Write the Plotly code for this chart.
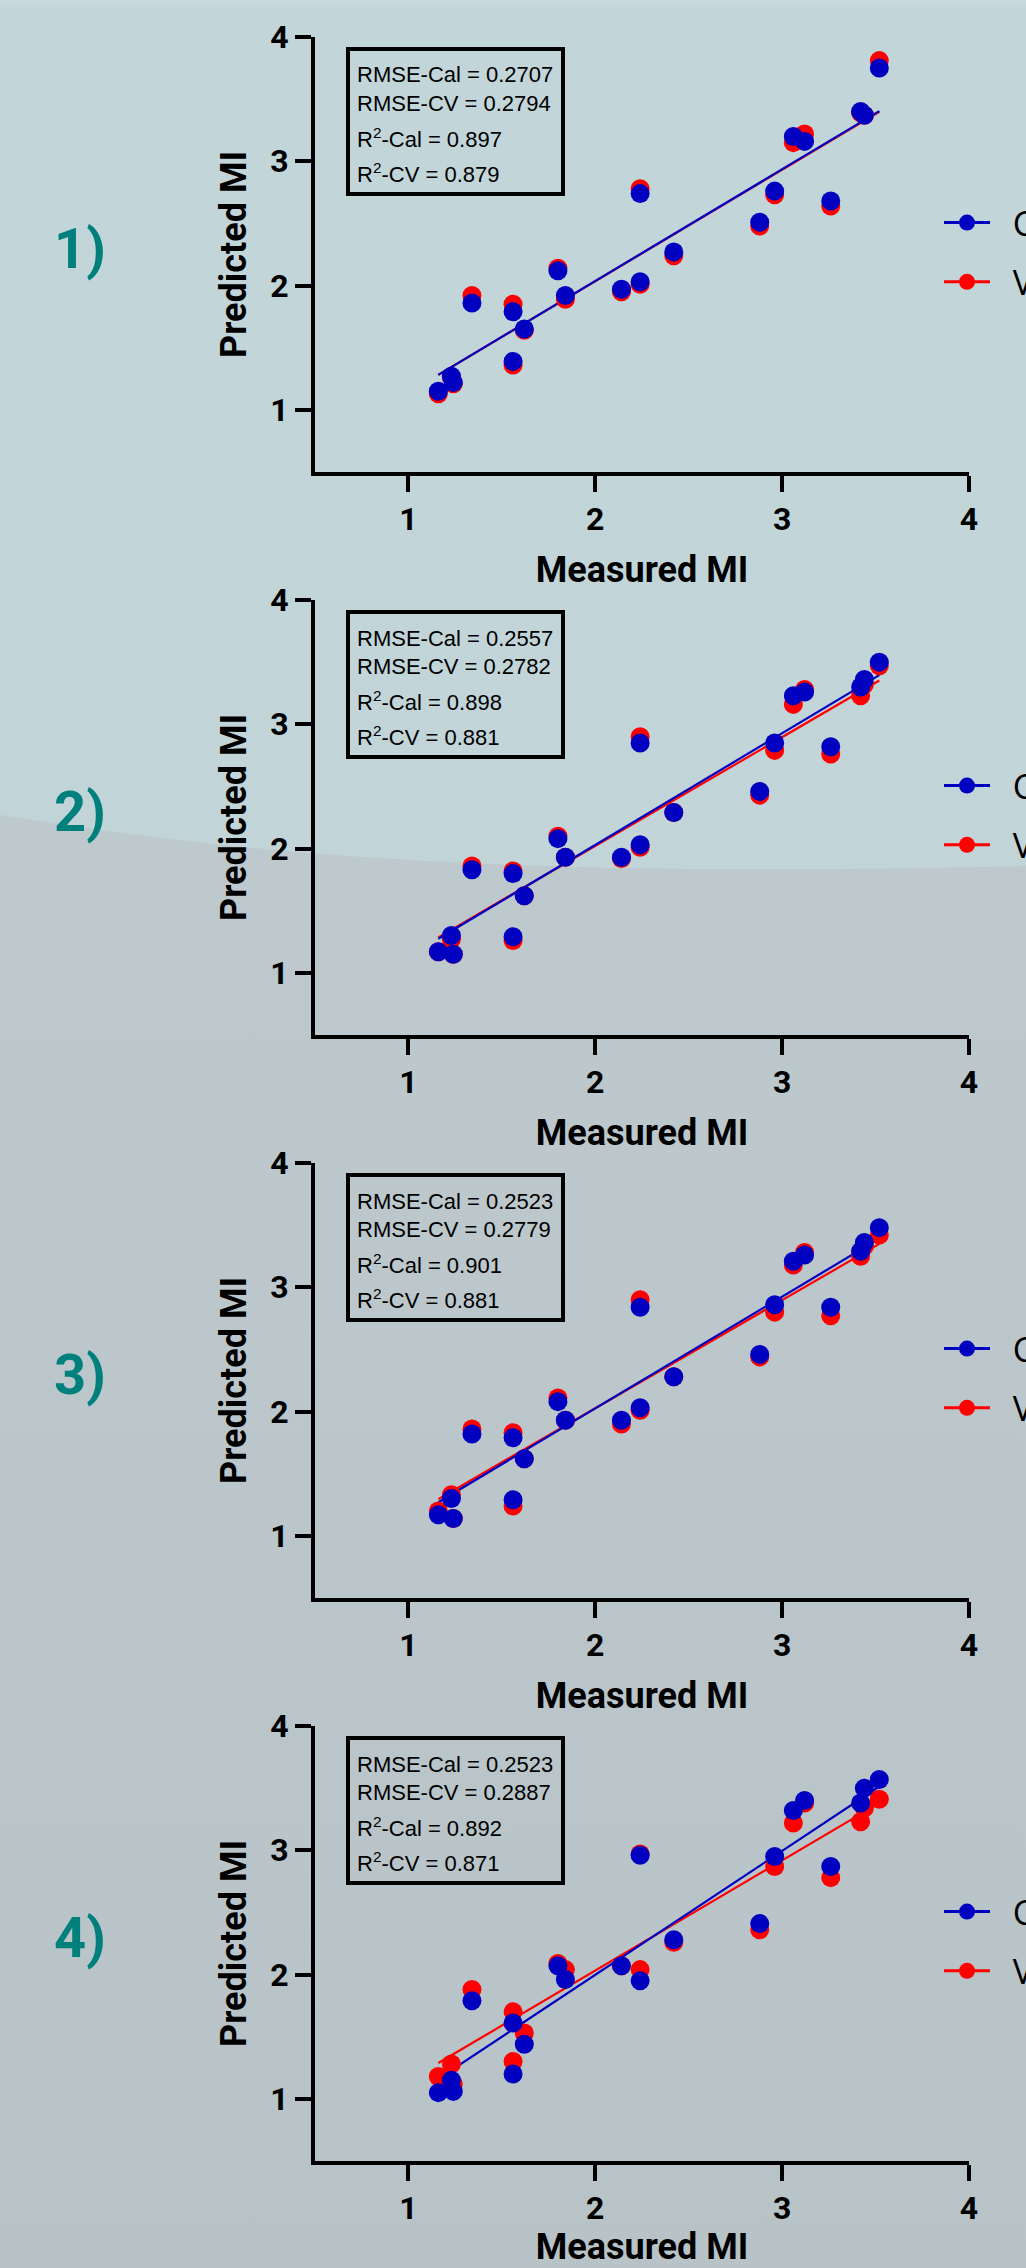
import base64
import numpy as np
import plotly.graph_objects as go

# ---------------- data ----------------
measured = [1.16, 1.23, 1.24, 1.34, 1.56, 1.56, 1.62, 1.80, 1.84, 2.14, 2.24,
            2.24, 2.42, 2.88, 2.96, 3.06, 3.12, 3.26, 3.42, 3.44, 3.52]

cal_1 = [1.15, 1.27, 1.22, 1.86, 1.79, 1.39, 1.65, 2.12, 1.92, 1.97, 2.74,
         2.03, 2.27, 2.51, 2.76, 3.20, 3.16, 2.68, 3.40, 3.37, 3.75]
val_1 = [1.13, 1.26, 1.21, 1.92, 1.85, 1.36, 1.64, 2.14, 1.89, 1.95, 2.78,
         2.01, 2.24, 2.48, 2.73, 3.15, 3.22, 2.64, 3.39, 3.37, 3.81]

cal_2 = [1.17, 1.30, 1.15, 1.83, 1.80, 1.29, 1.62, 2.08, 1.93, 1.93, 2.85,
         2.03, 2.29, 2.46, 2.85, 3.23, 3.26, 2.82, 3.30, 3.36, 3.50]
val_2 = [1.17, 1.27, 1.15, 1.86, 1.82, 1.26, 1.62, 2.10, 1.93, 1.92, 2.90,
         2.01, 2.29, 2.43, 2.79, 3.16, 3.28, 2.76, 3.23, 3.32, 3.47]

cal_3 = [1.17, 1.30, 1.14, 1.82, 1.79, 1.29, 1.62, 2.08, 1.93, 1.93, 2.84,
         2.03, 2.28, 2.46, 2.86, 3.21, 3.26, 2.84, 3.29, 3.36, 3.48]
val_3 = [1.20, 1.33, 1.14, 1.86, 1.83, 1.24, 1.62, 2.11, 1.93, 1.90, 2.90,
         2.01, 2.28, 2.44, 2.80, 3.18, 3.28, 2.77, 3.25, 3.33, 3.42]

cal_4 = [1.05, 1.15, 1.06, 1.79, 1.61, 1.20, 1.44, 2.07, 1.96, 2.07, 2.96,
         1.95, 2.28, 2.41, 2.95, 3.32, 3.40, 2.87, 3.38, 3.50, 3.57]
val_4 = [1.18, 1.28, 1.12, 1.88, 1.70, 1.30, 1.53, 2.09, 2.04, 2.07, 2.97,
         2.04, 2.26, 2.36, 2.87, 3.22, 3.38, 2.78, 3.23, 3.34, 3.41]

panel_labels = ["1)", "2)", "3)", "4)"]
rmse_cal = ["0.2707", "0.2557", "0.2523", "0.2523"]
rmse_cv = ["0.2794", "0.2782", "0.2779", "0.2887"]
r2_cal = ["0.897", "0.898", "0.901", "0.892"]
r2_cv = ["0.879", "0.881", "0.881", "0.871"]

tick_values = [1, 2, 3, 4]
axis_range = [0.5, 4]
series_names = ["Calibration", "Validation"]

cal_sets = [cal_1, cal_2, cal_3, cal_4]
val_sets = [val_1, val_2, val_3, val_4]

# ---------------- layout geometry ----------------
W, H = 1300, 2268          # figure is wider than the 1026 window: legend text is cut like the reference
VIEW_W = 1026
PLOT_L, PLOT_R = 315, 969
TOP0, STEP, PH = 37, 563, 435


def fx(px):
    return px / W


def fy(py):
    return 1 - py / H


BLUE = "#0000C0"
RED = "#FF0000"
COND = "Roboto, Liberation Sans, sans-serif"
REGULAR = "Liberation Sans, Arial, sans-serif"
LEGEND_FONT = "Open Sans, Noto Sans, sans-serif"

fig = go.Figure()

for i in range(4):
    n = "" if i == 0 else str(i + 1)
    xa, ya = "x" + n, "y" + n
    leg = "legend" + n
    xs = np.array(measured)
    cal = np.array(cal_sets[i])
    val = np.array(val_sets[i])
    groups = [(val, RED, series_names[1], 2), (cal, BLUE, series_names[0], 1)]

    # fitted lines
    for vals, color, name, rank in groups:
        slope, icpt = np.polyfit(xs, vals, 1)
        xl = np.array([xs.min(), xs.max()])
        fig.add_trace(go.Scatter(
            x=xl, y=slope * xl + icpt, mode="lines",
            line=dict(color=color, width=2.2),
            xaxis=xa, yaxis=ya, showlegend=False, hoverinfo="skip"))
    # points
    for vals, color, name, rank in groups:
        fig.add_trace(go.Scatter(
            x=xs, y=vals, mode="markers", name=name,
            marker=dict(color=color, size=19, line=dict(width=0)),
            xaxis=xa, yaxis=ya, showlegend=False))
    # legend entries (line + marker symbol)
    for vals, color, name, rank in groups:
        fig.add_trace(go.Scatter(
            x=[None], y=[None], mode="lines+markers",
            name="\u00a0\u00a0" + name,
            marker=dict(color=color, size=19),
            line=dict(color=color, width=3),
            xaxis=xa, yaxis=ya, legend=leg,
            legendgroup=f"{name}{i}", legendrank=rank, showlegend=True))

    top = TOP0 + i * STEP
    bot = top + PH

    common_axis = dict(
        range=axis_range, tickvals=tick_values, ticks="outside", ticklen=16,
        tickwidth=4, tickcolor="black", showline=True, linewidth=4,
        linecolor="black", showgrid=False, zeroline=False, automargin=False,
        tickfont=dict(family=COND, size=32, color="black", weight="bold"),
    )
    fig.layout["xaxis" + n] = dict(
        common_axis, domain=[fx(PLOT_L), fx(PLOT_R)], anchor=ya,
        title=dict(text="Measured MI", standoff=20,
                   font=dict(family=COND, size=36, color="black", weight="bold")))
    fig.layout["yaxis" + n] = dict(
        common_axis, domain=[fy(bot), fy(top)], anchor=xa,
        title=dict(text="Predicted MI", standoff=14,
                   font=dict(family=COND, size=36, color="black", weight="bold")))

    fig.layout[leg] = dict(
        x=fx(939), y=fy(top + 215.5), xanchor="left", yanchor="middle",
        xref="paper", yref="paper", bgcolor="rgba(0,0,0,0)", borderwidth=0,
        font=dict(family=LEGEND_FONT, size=34, color="black"),
        itemwidth=46, tracegroupgap=12, traceorder="grouped")

    # statistics box
    fig.add_shape(type="rect", xref="paper", yref="paper",
                  x0=fx(348), x1=fx(563), y0=fy(top + 12), y1=fy(top + 157),
                  line=dict(color="black", width=4), fillcolor="rgba(0,0,0,0)")
    lines = [f"RMSE-Cal = {rmse_cal[i]}", f"RMSE-CV = {rmse_cv[i]}",
             f"R<sup>2</sup>-Cal = {r2_cal[i]}", f"R<sup>2</sup>-CV = {r2_cv[i]}"]
    centers = [38, 66.5, 101, 136]
    for txt, c in zip(lines, centers):
        fig.add_annotation(text=txt, xref="paper", yref="paper",
                           x=fx(355), y=fy(top + c), xanchor="left", yanchor="middle",
                           showarrow=False,
                           font=dict(family=REGULAR, size=22, color="black"))

    # panel number
    fig.add_annotation(text=panel_labels[i], xref="paper", yref="paper",
                       x=fx(80), y=fy(top + 212), xanchor="center", yanchor="middle",
                       showarrow=False,
                       font=dict(family=COND, size=56, color="#00807C", weight="bold"))

# ---------------- background ----------------
svg = (
    '<svg xmlns="http://www.w3.org/2000/svg" width="1026" height="2268" '
    'viewBox="0 0 1026 2268" preserveAspectRatio="none">'
    '<defs>'
    '<linearGradient id="g1" x1="0" y1="0" x2="0" y2="1">'
    '<stop offset="0" stop-color="#C7D9DD"/><stop offset="0.004" stop-color="#C2D5D9"/>'
    '<stop offset="1" stop-color="#C1D3D7"/></linearGradient>'
    '<linearGradient id="g2" x1="0" y1="0" x2="0" y2="1">'
    '<stop offset="0" stop-color="#BDC9CD"/><stop offset="1" stop-color="#B8C3C7"/>'
    '</linearGradient>'
    '</defs>'
    '<rect width="1026" height="2268" fill="url(#g1)"/>'
    '<path d="M0,815 C250,855 500,878 1026,866 L1026,2268 L0,2268 Z" fill="url(#g2)"/>'
    '</svg>'
)
b64 = base64.b64encode(svg.encode()).decode()

fig.update_layout(
    width=W, height=H,
    margin=dict(l=0, r=0, t=0, b=0),
    paper_bgcolor="#C2D5D9",
    plot_bgcolor="rgba(0,0,0,0)",
    images=[dict(source="data:image/svg+xml;base64," + b64, xref="paper", yref="paper",
                 x=0, y=1, sizex=VIEW_W / W, sizey=1, sizing="stretch",
                 xanchor="left", yanchor="top", layer="below")],
)

fig.write_html(
    "out.html",
    config={"displayModeBar": False},
    post_script=("document.body.style.margin='0';"
                 "document.body.style.overflow='hidden';"
                 "document.documentElement.style.overflow='hidden';"),
)
